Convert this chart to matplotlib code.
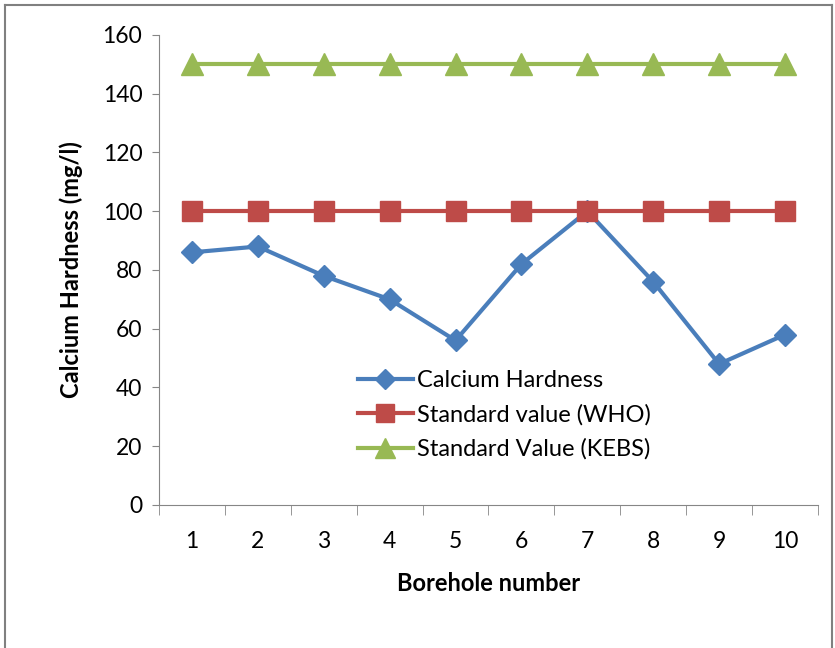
import numpy as np
import matplotlib.pyplot as plt
from matplotlib.lines import Line2D

plt.rcParams['font.family'] = ['Lato', 'DejaVu Sans']

# borehole numbers en waarden (mg/l)
boreholes = [1, 2, 3, 4, 5, 6, 7, 8, 9, 10]
calcium = [86, 88, 78, 70, 56, 82, 100, 76, 48, 58]
who_std = [100, 100, 100, 100, 100, 100, 100, 100, 100, 100]
kebs_std = [150, 150, 150, 150, 150, 150, 150, 150, 150, 150]
y_ticks = [0, 20, 40, 60, 80, 100, 120, 140, 160]

fig = plt.figure(figsize=(8.35, 6.48), dpi=100)
ax = fig.add_axes([0.1904, 0.2207, 0.7892, 0.7253])

ax.plot(boreholes, calcium, color='#4A7EBB', lw=3, marker='D', ms=11,
        label='Calcium Hardness')
ax.plot(boreholes, who_std, color='#BE4B48', lw=3, marker='s', ms=14,
        label='Standard value (WHO)')
ax.plot(boreholes, kebs_std, color='#98B954', lw=3, marker='^', ms=15.5,
        label='Standard Value (KEBS)')

ax.set_xlim(0.5, 10.5)
ax.set_ylim(0, 160)
ax.set_yticks(y_ticks)
ax.set_xticks(boreholes)
ax.set_xticks(np.arange(0.5, 11, 1), minor=True)
ax.tick_params(axis='x', which='major', length=0, pad=19, labelsize=16.5)
ax.tick_params(axis='x', which='minor', length=7, color='#868686', direction='out')
ax.tick_params(axis='y', length=5, color='#868686', labelsize=16.5, pad=7)

for s in ['top', 'right']:
    ax.spines[s].set_visible(False)
for s in ['left', 'bottom']:
    ax.spines[s].set_color('#868686')

ax.set_xlabel('Borehole number', fontsize=17, fontweight='bold', labelpad=14)
ax.set_ylabel('Calcium Hardness (mg/l)', fontsize=17, fontweight='bold', labelpad=14)

ax.legend(loc='lower left', bbox_to_anchor=(0.288, 0.0755), frameon=False,
          fontsize=17, handlelength=2.3, handletextpad=0.2, labelspacing=0.55,
          borderaxespad=0, markerscale=0.9)

# grijze rand rond de figuur
rand = [Line2D([0.006, 0.006], [0, 0.992]), Line2D([0.006, 0.996], [0.992, 0.992]),
        Line2D([0.996, 0.996], [0, 0.992])]
for l in rand:
    l.set_transform(fig.transFigure)
    l.set_color('#808080')
    l.set_linewidth(1.5)
    fig.add_artist(l)

plt.savefig('out.png', dpi=100)
